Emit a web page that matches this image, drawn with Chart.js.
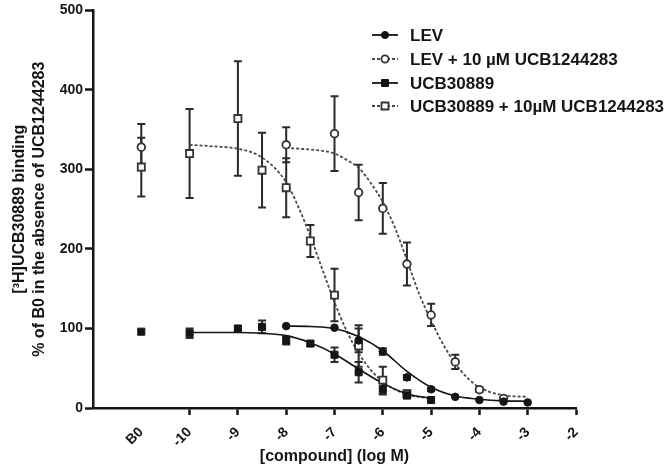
<!DOCTYPE html>
<html><head><meta charset="utf-8">
<script src="https://cdn.jsdelivr.net/npm/chart.js@4.4.1/dist/chart.umd.min.js"></script>
<style>html,body{margin:0;padding:0;background:#fff}#wrap{width:670px;height:474px}</style>
</head><body><div id="wrap"><canvas id="c" width="670" height="474"></canvas></div>
<script>
// ---- axis ticks ----
const xTickValues = [-11, -10, -9, -8, -7, -6, -5, -4, -3, -2];
const xTickLabels = ['B0', '-10', '-9', '-8', '-7', '-6', '-5', '-4', '-3', '-2'];
const yTickValues = [0, 100, 200, 300, 400, 500];
const B0_POS = -11;

// ---- series names ----
const seriesNames = ['LEV', 'LEV + 10 \u00b5M UCB1244283', 'UCB30889', 'UCB30889 + 10\u00b5M UCB1244283'];

// ---- measured points (x = log M, B0 plotted at -11) ----
const levX   = [-8, -7, -6.5, -6, -5.5, -5, -4.5, -4, -3.5, -3];
const levY   = [103, 101, 85, 71, 38.5, 23.5, 14, 10, 8, 7];
const levErr = [0, 0, 15, 4, 3, 2, 0, 0, 0, 0];

const levUX   = [-11, -8, -7, -6.5, -6, -5.5, -5, -4.5, -4, -3.5];
const levUY   = [328, 331, 345, 271, 251, 181, 117, 58, 23, 12];
const levUErr = [29, 22, 47, 35, 32, 27, 14, 9, 3, 0];

const ucbX   = [-11, -10, -9, -8.5, -8, -7.5, -7, -6.5, -6, -5.5, -5];
const ucbY   = [96, 94, 100, 102, 85, 81, 67, 45, 24, 16, 10];
const ucbErr = [0, 6, 3, 8, 5, 3, 9, 13, 7, 4, 0];

const ucbUX   = [-11, -10, -9, -8.5, -8, -7.5, -7, -6.5, -6, -5.5];
const ucbUY   = [303, 320, 364, 299, 277, 210, 142, 78, 35, 18];
const ucbUErr = [37, 56, 72, 47, 37, 20, 33, 26, 17, 4];

// ---- fitted curves ----
const levFitX = [-8, -7.5, -7, -6.5, -6, -5.5, -5, -4.5, -4, -3.5, -3];
const levFitY = [103, 102.5, 100, 90, 72, 46, 26, 15, 11, 9, 8.5];

const levUFitX = [-8, -7.5, -7, -6.75, -6.5, -6.25, -6, -5.75, -5.5, -5.25, -5, -4.75, -4.5, -4.25, -4, -3.5, -3];
const levUFitY = [327, 325, 320, 312, 302, 283, 259, 227, 186, 144, 110, 80, 56, 38, 26, 16, 14];

const ucbFitX = [-10, -9.5, -9, -8.5, -8, -7.5, -7, -6.5, -6, -5.5, -5];
const ucbFitY = [95, 95, 95, 94, 91, 82, 68, 49, 31, 18, 12];

const ucbUFitX = [-10, -9.5, -9, -8.5, -8, -7.75, -7.5, -7.25, -7, -6.75, -6.5, -6.25, -6, -5.5, -5];
const ucbUFitY = [331, 329, 326, 315, 284, 253, 216, 174, 133, 97, 69, 48, 33, 17, 12];

const pts = (xs, ys) => xs.map((x, i) => ({x: x, y: ys[i]}));
const INK = '#151515';
const DASH_INK = '#4a4a4a';
const FONT = 'Liberation Sans, Arial, sans-serif';

const pointDatasets = [
  {label: seriesNames[0], data: pts(levX, levY), errs: levErr, pointStyle: 'circle', pointRadius: 3.8,
   pointBackgroundColor: INK, pointBorderColor: INK, pointBorderWidth: 1, showLine: false},
  {label: seriesNames[1], data: pts(levUX, levUY), errs: levUErr, pointStyle: 'circle', pointRadius: 3.8,
   pointBackgroundColor: '#fff', pointBorderColor: '#333', pointBorderWidth: 1.8, showLine: false},
  {label: seriesNames[2], data: pts(ucbX, ucbY), errs: ucbErr, pointStyle: 'rect', pointRadius: 5,
   pointBackgroundColor: INK, pointBorderColor: INK, pointBorderWidth: 1, showLine: false},
  {label: seriesNames[3], data: pts(ucbUX, ucbUY), errs: ucbUErr, pointStyle: 'rect', pointRadius: 5,
   pointBackgroundColor: '#fff', pointBorderColor: '#333', pointBorderWidth: 1.8, showLine: false}
];
const fitDatasets = [
  {label: 'fit LEV', data: pts(levFitX, levFitY), borderColor: INK, borderWidth: 1.6},
  {label: 'fit LEV+', data: pts(levUFitX, levUFitY), borderColor: DASH_INK, borderWidth: 1.8, borderDash: [3, 2]},
  {label: 'fit UCB', data: pts(ucbFitX, ucbFitY), borderColor: INK, borderWidth: 1.6},
  {label: 'fit UCB+', data: pts(ucbUFitX, ucbUFitY), borderColor: DASH_INK, borderWidth: 1.8, borderDash: [3, 2]}
].map(d => Object.assign(d, {showLine: true, pointRadius: 0, cubicInterpolationMode: 'monotone', fill: false, isFit: true}));

const errorBars = {
  id: 'errorBars',
  beforeDatasetsDraw(chart) {
    const ctx = chart.ctx, xs = chart.scales.x, ys = chart.scales.y;
    ctx.save();
    ctx.strokeStyle = '#2a2a2a';
    ctx.lineWidth = 2;
    chart.data.datasets.forEach(ds => {
      if (!ds.errs) return;
      ds.data.forEach((p, i) => {
        const e = ds.errs[i];
        if (!e) return;
        const px = xs.getPixelForValue(p.x);
        const y1 = ys.getPixelForValue(p.y + e), y2 = ys.getPixelForValue(Math.max(0, p.y - e));
        ctx.beginPath();
        ctx.moveTo(px, y1); ctx.lineTo(px, y2);
        ctx.moveTo(px - 4, y1); ctx.lineTo(px + 4, y1);
        ctx.moveTo(px - 4, y2); ctx.lineTo(px + 4, y2);
        ctx.stroke();
      });
    });
    ctx.restore();
  }
};

const legendPlugin = {
  id: 'customLegend',
  afterDraw(chart) {
    const ctx = chart.ctx;
    const rowsY = [35, 59, 83, 106];
    ctx.save();
    pointDatasets.forEach((ds, i) => {
      const y = rowsY[i];
      const dashed = i % 2 === 1;
      ctx.strokeStyle = dashed ? DASH_INK : INK;
      ctx.lineWidth = 1.8;
      ctx.setLineDash(dashed ? [3, 2] : []);
      ctx.beginPath(); ctx.moveTo(372, y); ctx.lineTo(398, y); ctx.stroke();
      ctx.setLineDash([]);
      ctx.fillStyle = ds.pointBackgroundColor;
      ctx.strokeStyle = ds.pointBorderColor;
      ctx.lineWidth = ds.pointBorderWidth;
      ctx.beginPath();
      if (ds.pointStyle === 'rect') { ctx.rect(381.5, y - 3.5, 7, 7); }
      else { ctx.arc(385, y, 3.6, 0, Math.PI * 2); }
      ctx.fill(); ctx.stroke();
      ctx.fillStyle = INK;
      ctx.font = 'bold 17px ' + FONT;
      ctx.textBaseline = 'middle';
      ctx.textAlign = 'left';
      ctx.fillText(ds.label, 410, y + 1);
    });
    ctx.restore();
  }
};

new Chart(document.getElementById('c'), {
  type: 'scatter',
  data: {datasets: pointDatasets.concat(fitDatasets)},
  options: {
    responsive: false,
    devicePixelRatio: 1,
    animation: false,
    layout: {padding: {top: 9, right: 94, bottom: 0, left: 0}},
    plugins: {legend: {display: false}, tooltip: {enabled: false}},
    scales: {
      x: {
        type: 'linear', min: -12, max: -2,
        afterBuildTicks: s => { s.ticks = xTickValues.map(v => ({value: v})); },
        afterFit: s => { s.height = 66; },
        ticks: {autoSkip: false, maxRotation: 45, minRotation: 45, padding: 9, color: INK,
                font: {family: FONT, size: 14, weight: 'bold'},
                callback: (v, i) => xTickLabels[i]},
        grid: {display: true, drawOnChartArea: false, drawTicks: true, tickLength: 7, tickWidth: 2.5,
               tickColor: c => (c.tick && c.tick.value === B0_POS) ? 'rgba(0,0,0,0)' : INK},
        border: {display: true, width: 2.5, color: INK},
        title: {display: true, text: '[compound] (log M)', color: INK,
                font: {family: FONT, size: 16, weight: 'bold'}, padding: {top: 0, bottom: 8}}
      },
      y: {
        min: 0, max: 500,
        afterBuildTicks: s => { s.ticks = yTickValues.map(v => ({value: v})); },
        afterFit: s => { s.width = 93; },
        ticks: {padding: 2, color: INK, font: {family: FONT, size: 14, weight: 'bold'}},
        grid: {display: true, drawOnChartArea: false, drawTicks: true, tickLength: 8, tickWidth: 2.5, tickColor: INK},
        border: {display: true, width: 2.5, color: INK},
        title: {display: true, text: ['[\u00b3H]UCB30889 binding', '% of B0 in the absence of UCB1244283'],
                color: INK, font: {family: FONT, size: 16, weight: 'bold', lineHeight: 1.25}, padding: {top: 10}}
      }
    }
  },
  plugins: [errorBars, legendPlugin]
});
</script></body></html>
